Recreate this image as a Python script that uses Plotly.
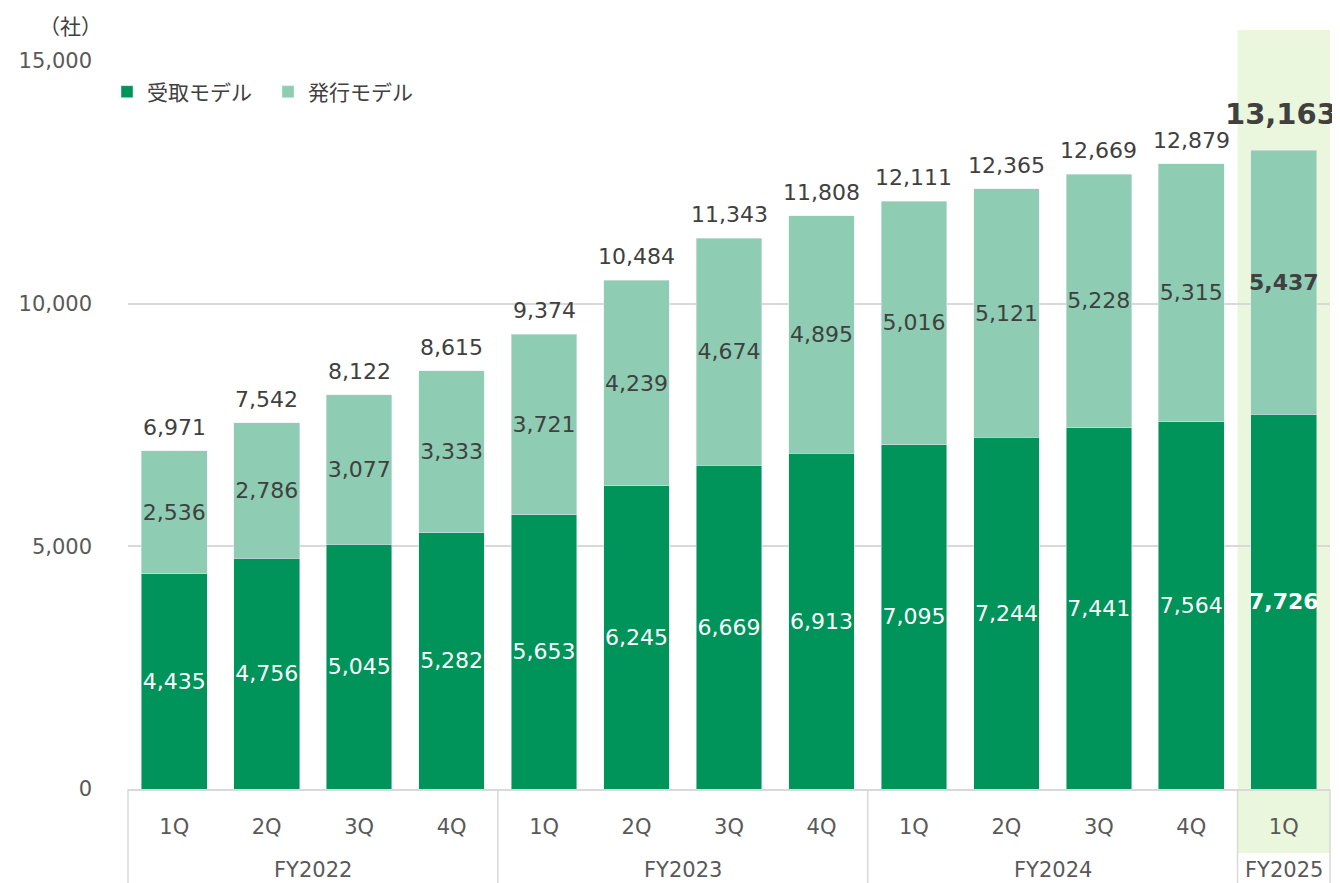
import plotly.graph_objects as go

quarters = ["1Q", "2Q", "3Q", "4Q", "1Q", "2Q", "3Q", "4Q", "1Q", "2Q", "3Q", "4Q", "1Q"]
fiscal_years = ["FY2022", "FY2023", "FY2024", "FY2025"]
quarters_per_year = [4, 4, 4, 1]
receive_model = [4435, 4756, 5045, 5282, 5653, 6245, 6669, 6913, 7095, 7244, 7441, 7564, 7726]
issue_model = [2536, 2786, 3077, 3333, 3721, 4239, 4674, 4895, 5016, 5121, 5228, 5315, 5437]
y_ticks = [0, 5000, 10000, 15000]

DARK = "#00935A"
LIGHT = "#8ECDB4"
HIGHLIGHT = "#EBF7DC"
GRID = "#D9D9D9"
TXT = "#404040"
AXTXT = "#595959"
FONT = "DejaVu Sans, Noto Sans CJK JP"
JP = "Noto Sans CJK JP"

n = len(quarters)
x = list(range(n))
totals = [a + b for a, b in zip(receive_model, issue_model)]
last = n - 1


def fmt(v, i):
    s = f"{v:,}"
    return f"<b>{s}</b>" if i == last else s


# page body has an 8px margin, so the figure is 8px smaller and everything
# is measured in page pixels: plot area left 128, right 1330, top 61, bottom 789
BODY = 8
PLOT_L, PLOT_W = 128, 1202
PLOT_T, PLOT_B, PLOT_H = 61, 789, 728


def py(pixel_y):
    return (PLOT_B - pixel_y) / PLOT_H


def pxl(pixel_x):
    return (pixel_x - PLOT_L) / PLOT_W


def px(i):
    return (i + 0.5) / n


fig = go.Figure()
fig.add_trace(go.Bar(
    x=x, y=receive_model, name="受取モデル", marker_color=DARK,
    text=[fmt(v, i) for i, v in enumerate(receive_model)],
    textposition="inside", insidetextanchor="middle", textangle=0,
    textfont=dict(color="white", size=22, family=FONT),
))
fig.add_trace(go.Bar(
    x=x, y=issue_model, name="発行モデル", marker_color=LIGHT,
    text=[fmt(v, i) for i, v in enumerate(issue_model)],
    textposition="inside", insidetextanchor="middle", textangle=0,
    textfont=dict(color=TXT, size=22, family=FONT),
))

annotations = []
for i, t in enumerate(totals):
    annotations.append(dict(
        x=i, y=t, text=fmt(t, i), showarrow=False, yanchor="bottom", xanchor="center",
        yshift=17 if i == last else 9, xshift=-3 if i == last else 0,
        font=dict(size=29 if i == last else 22, color=TXT, family=FONT),
    ))

shapes = [dict(
    type="rect", xref="paper", yref="paper", layer="below",
    x0=px(last) - 0.5 / n, x1=1, y0=py(853), y1=py(30),
    fillcolor=HIGHLIGHT, line_width=0,
)]

# fiscal year group labels and dividers
start = 0
edges = [0]
for fy, cnt in zip(fiscal_years, quarters_per_year):
    mid = start + (cnt - 1) / 2
    annotations.append(dict(
        x=px(mid), y=py(870), xref="paper", yref="paper", text=fy,
        xanchor="center", yanchor="middle",
        showarrow=False, font=dict(size=21, color=AXTXT, family=FONT),
    ))
    start += cnt
    edges.append(start)
for e in edges:
    shapes.append(dict(
        type="line", xref="paper", yref="paper",
        x0=e / n, x1=e / n, y0=0, y1=py(883),
        line=dict(color=GRID, width=1.5),
    ))

annotations.append(dict(
    x=pxl(70), y=py(BODY + 1), xref="paper", yref="paper", text="（社）",
    xanchor="center", yanchor="top", borderpad=0,
    showarrow=False, font=dict(size=21, color=TXT, family=JP),
))

fig.update_layout(
    width=1340 - BODY, height=883 - BODY,
    margin=dict(l=PLOT_L - BODY, r=1340 - BODY - (PLOT_L - BODY) - PLOT_W,
                t=PLOT_T - BODY, b=883 - PLOT_B, autoexpand=False),
    barmode="stack", bargap=0.29,
    plot_bgcolor="rgba(0,0,0,0)", paper_bgcolor="white",
    font=dict(family=FONT, color=TXT),
    uniformtext=dict(minsize=21, mode="show"),
    showlegend=True,
    legend=dict(
        orientation="h", x=pxl(107), y=py(92), xanchor="left", yanchor="middle",
        font=dict(size=21, family=JP, color=TXT),
        itemwidth=30, bgcolor="rgba(0,0,0,0)", traceorder="normal",
        entrywidth=116, entrywidthmode="pixels",
    ),
    xaxis=dict(
        range=[-0.5, n - 0.5], tickvals=x, ticktext=quarters,
        showgrid=False, zeroline=False, showline=True, linecolor=GRID, linewidth=1.5,
        ticks="", ticklabelstandoff=18,
        tickfont=dict(size=21, color=AXTXT, family=FONT),
    ),
    yaxis=dict(
        range=[0, 15000], tickvals=y_ticks, tickformat=",",
        showgrid=True, gridcolor=GRID, gridwidth=1.5, zeroline=False,
        showline=False, ticks="", ticklabelstandoff=35,
        tickfont=dict(size=21, color=AXTXT, family=FONT),
    ),
    annotations=annotations,
    shapes=shapes,
)

fig.write_html("out.html")
